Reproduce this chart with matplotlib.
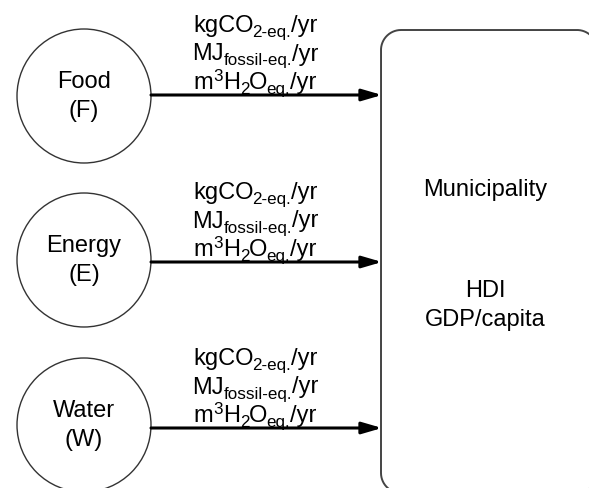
import matplotlib
matplotlib.use("Agg")
import matplotlib.pyplot as plt
from matplotlib.patches import Circle
from matplotlib.path import Path
from matplotlib.patches import PathPatch
import numpy as np

plt.rcParams['font.family'] = ['Liberation Sans', 'DejaVu Sans']

nodes = [("Food", "(F)"), ("Energy", "(E)"), ("Water", "(W)")]
node_y = [96, 260, 425]
arrow_y = [95, 262, 428]
# rich-text flow labels: (text, kind) with kind in n / sub / sup
flow_labels = [
    [("kgCO", "n"), ("2-eq.", "sub"), ("/yr", "n")],
    [("MJ", "n"), ("fossil-eq.", "sub"), ("/yr", "n")],
    [("m", "n"), ("3", "sup"), ("H", "n"), ("2", "sub"), ("O", "n"), ("eq.", "sub"), ("/yr", "n")],
]
box_title = "Municipality"
box_lines = ["HDI", "GDP/capita"]

W, H = 589, 488
FS = 17
fig = plt.figure(figsize=(W/100, H/100), dpi=100)
ax = fig.add_axes([0, 0, 1, 1])
ax.set_xlim(0, W)
ax.set_ylim(H, 0)
ax.set_autoscale_on(False)
ax.axis('off')
fig.canvas.draw()
renderer = fig.canvas.get_renderer()


def advance(s, fs):
    t = ax.text(0, 0, s, fontsize=fs)
    w = t.get_window_extent(renderer).width
    t.remove()
    return w


def rich_text(cx, base_y, pieces):
    objs = []
    total = 0
    prev = None
    for s, kind in pieces:
        fs = FS if kind == "n" else FS * 0.72
        dy = 0 if kind == "n" else (5 if kind == "sub" else -8)
        if prev is not None and prev.endswith("O") and kind == "sub":
            total -= 1.5
        t = ax.text(0, base_y + dy, s, fontsize=fs, ha='left', va='baseline')
        objs.append((t, total))
        total += advance(s, fs)
        prev = s
    x0 = cx - total / 2
    for t, off in objs:
        t.set_x(x0 + off)


cx, r = 84, 67
for (l1, l2), y, ay in zip(nodes, node_y, arrow_y):
    ax.add_patch(Circle((cx, y), r, facecolor='white', edgecolor='#333333', lw=1.0))
    ax.text(cx, y - 8, l1, ha='center', va='baseline', fontsize=FS)
    ax.text(cx, y + 21, l2, ha='center', va='baseline', fontsize=FS)
    ax.annotate("", xy=(382, ay), xytext=(cx + r, ay),
                arrowprops=dict(arrowstyle='-|>,head_length=1.2,head_width=0.35',
                                color='black', lw=2.2, shrinkA=0, shrinkB=0))
    for i, pieces in enumerate(flow_labels):
        rich_text(255, ay - 63 + i * 28.5, pieces)

# rounded box: only left/top/bottom sides visible; right side falls beyond canvas
bx0, by0, bx1, by1, rr = 381, 30, 597, 493, 20
th = np.linspace(0, np.pi / 2, 30)
pts = []
# bottom-left corner -> left side -> top-left corner
pts += list(zip(bx0 + rr - rr * np.sin(th), by1 - rr + rr * np.cos(th)))
pts += list(zip(bx0 + rr - rr * np.cos(th), by0 + rr - rr * np.sin(th)))
# top-right corner
pts += list(zip(bx1 - rr + rr * np.sin(th), by0 + rr - rr * np.cos(th)))
pts += list(zip(bx1 + 0 * th, np.linspace(by0 + rr, by1 - rr, 30)))
pts += list(zip(bx1 - rr + rr * np.cos(th), by1 - rr + rr * np.sin(th)))
pts.append(pts[0])
ax.add_patch(PathPatch(Path(pts), facecolor='none', edgecolor='#444444', lw=1.4))

ax.text(485, 196, box_title, ha='center', va='baseline', fontsize=FS)
for i, s in enumerate(box_lines):
    ax.text(485, 297 + i * 29, s, ha='center', va='baseline', fontsize=FS)

fig.savefig("out.png", dpi=100)
